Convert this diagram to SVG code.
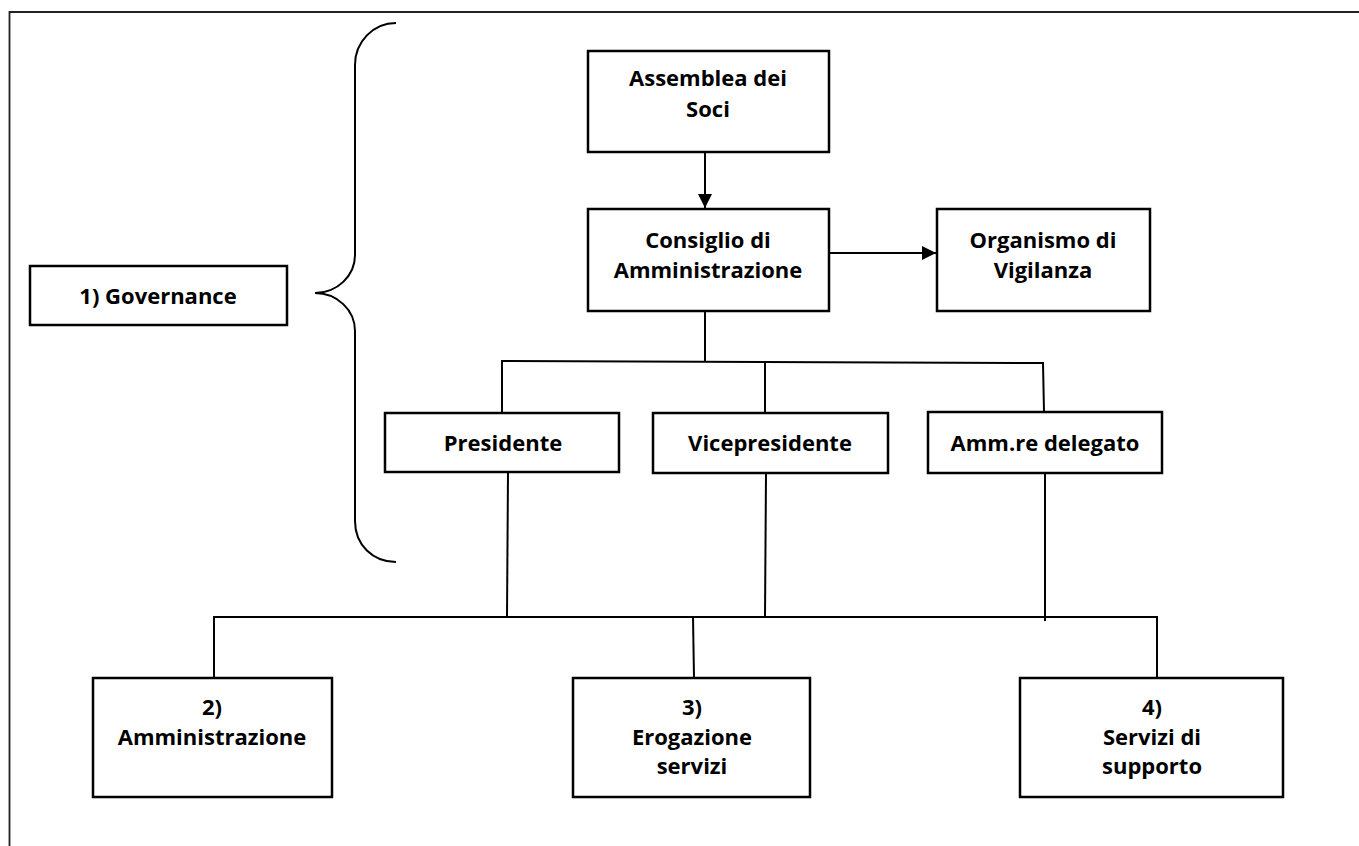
<svg xmlns="http://www.w3.org/2000/svg" width="1359" height="846" viewBox="0 0 1359 846">
<defs>
<style>
.box{fill:#fff;stroke:#000;stroke-width:2.5}
.t{font-family:"Open Sans","Liberation Sans",sans-serif;font-weight:bold;font-size:22px;fill:#000;text-anchor:middle}
.ln{fill:none;stroke:#000;stroke-width:2}
</style>
<marker id="ah" viewBox="0 0 14 14" refX="14" refY="7" markerWidth="14" markerHeight="14" markerUnits="userSpaceOnUse" orient="auto">
<path d="M0,0 L14,7 L0,14 Z" fill="#000"/>
</marker>
</defs>
<rect width="1359" height="846" fill="#fff"/>
<g id="frame">
<path d="M9.5,846 V12 H1359" fill="none" stroke="#222" stroke-width="1.8"/>
</g>
<g id="brace">
<path class="ln" d="M396,23 C373,23 355,42 355,65 L355,255 C355,276 337,293 315,293 C337,293 355,310 355,331 L355,521 C355,545 373,562 396,562"/>
</g>
<g id="connectors">
<line class="ln" x1="705" y1="152" x2="705" y2="208" marker-end="url(#ah)"/>
<line class="ln" x1="829" y1="253" x2="936" y2="253" marker-end="url(#ah)"/>
<line class="ln" x1="705" y1="311" x2="705" y2="362"/>
<polyline class="ln" points="502,412 502,361 1042,363 1043,363 1044,412"/>
<line class="ln" x1="765" y1="362" x2="765" y2="412"/>
<line class="ln" x1="508" y1="472" x2="507" y2="617"/>
<line class="ln" x1="766" y1="473" x2="765" y2="617"/>
<line class="ln" x1="1045" y1="473" x2="1045" y2="621"/>
<polyline class="ln" points="214,678 214,617 1157,617 1157,678"/>
<line class="ln" x1="693" y1="617" x2="694" y2="678"/>
</g>
<g id="n-assemblea">
<rect class="box" x="588" y="51" width="241" height="101"/>
<text class="t" x="708" y="86">Assemblea dei</text>
<text class="t" x="708" y="117">Soci</text>
</g>
<g id="n-consiglio">
<rect class="box" x="588" y="209" width="241" height="102"/>
<text class="t" x="708" y="248">Consiglio di</text>
<text class="t" x="708" y="278">Amministrazione</text>
</g>
<g id="n-organismo">
<rect class="box" x="937" y="209" width="213" height="102"/>
<text class="t" x="1043" y="248">Organismo di</text>
<text class="t" x="1043" y="278">Vigilanza</text>
</g>
<g id="n-governance">
<rect class="box" x="30" y="266" width="257" height="59"/>
<text class="t" x="158" y="304">1) Governance</text>
</g>
<g id="n-presidente">
<rect class="box" x="385" y="413" width="234" height="59"/>
<text class="t" x="503" y="451">Presidente</text>
</g>
<g id="n-vicepresidente">
<rect class="box" x="653" y="413" width="235" height="60"/>
<text class="t" x="770" y="451">Vicepresidente</text>
</g>
<g id="n-ammre">
<rect class="box" x="928" y="412" width="234" height="61"/>
<text class="t" x="1045" y="451">Amm.re delegato</text>
</g>
<g id="n-amministrazione">
<rect class="box" x="93" y="678" width="239" height="119"/>
<text class="t" x="212" y="715">2)</text>
<text class="t" x="212" y="745">Amministrazione</text>
</g>
<g id="n-erogazione">
<rect class="box" x="573" y="678" width="237" height="119"/>
<text class="t" x="692" y="715">3)</text>
<text class="t" x="692" y="745">Erogazione</text>
<text class="t" x="692" y="774">servizi</text>
</g>
<g id="n-supporto">
<rect class="box" x="1020" y="678" width="263" height="119"/>
<text class="t" x="1152" y="715">4)</text>
<text class="t" x="1152" y="745">Servizi di</text>
<text class="t" x="1152" y="774">supporto</text>
</g>
</svg>
